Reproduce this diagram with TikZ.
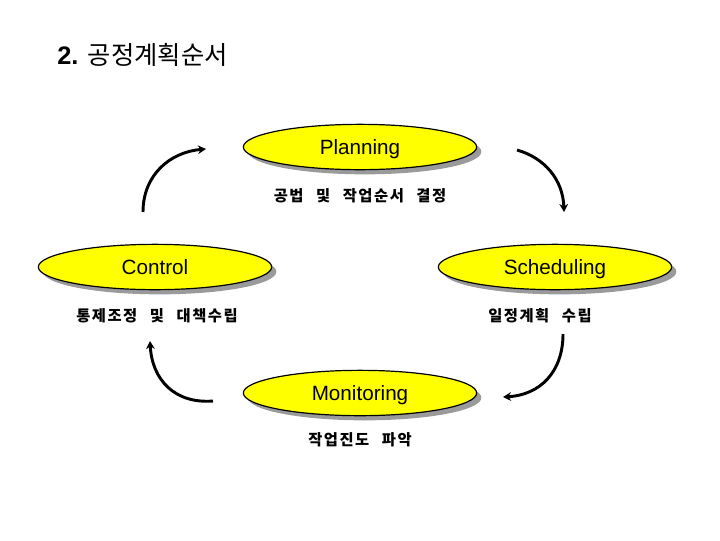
\documentclass[tikz,border=0pt]{standalone}
\usepackage{fontspec}
\setmainfont{Liberation Sans}
\newfontfamily\kr[LetterSpace=10,WordSpace=2.5]{Noto Sans CJK KR}
\newfontfamily\krtitle{Noto Sans CJK KR}
\usetikzlibrary{arrows.meta,shapes.geometric,shadows}
\definecolor{phasefill}{HTML}{FFFF00}
\definecolor{shadowcol}{HTML}{9A9A9A}

\tikzset{
  phase/.style={ellipse, draw=black, line width=0.9pt, fill=phasefill,
    minimum width=175pt, minimum height=34pt, inner sep=0pt,
    text height=1.05em, text depth=0pt,
    font=\fontsize{15.5}{18}\selectfont,
    drop shadow={shadow xshift=3.5pt, shadow yshift=-3.5pt, fill=shadowcol, opacity=1}},
  sublabel/.style={font=\kr\bfseries\fontsize{11.5}{13}\selectfont},
  cyc/.style={line width=2.2pt, -{Stealth[length=6pt,width=6.5pt]}}
}

\begin{document}
\begin{tikzpicture}[x=0.75pt, y=-0.75pt]
  \useasboundingbox (0,0) rectangle (720,540);

  % title
  \node[anchor=west, inner sep=0pt, font=\fontsize{19}{22}\selectfont] (title) at (57,55)
    {\textbf{2.} \krtitle 공정계획순서};

  % phases
  \node[phase] (plan)  at (360,147) {Planning};
  \node[phase] (ctrl)  at (155,267) {Control};
  \node[phase] (sched) at (555,267) {Scheduling};
  \node[phase] (mon)   at (360,393) {Monitoring};

  % what each phase does
  \node[sublabel] (plantxt)  at (360,196) {공법 및 작업순서 결정};
  \node[sublabel] (ctrltxt)  at (157,316) {통제조정 및 대책수립};
  \node[sublabel] (schedtxt) at (540,316) {일정계획 수립};
  \node[sublabel] (montxt)   at (360,440) {작업진도 파악};

  % cycle arrows (free standing, clockwise)
  \coordinate (tlA) at (143,212); \coordinate (tlB) at (206,149);
  \coordinate (trA) at (517,150); \coordinate (trB) at (564,212);
  \coordinate (brA) at (563,334); \coordinate (brB) at (503,397);
  \coordinate (blA) at (213,401); \coordinate (blB) at (150,341);
  \draw[cyc] (tlA) .. controls (143,175) and (170,152) .. (tlB);
  \draw[cyc] (trA) .. controls (545,158) and (563,180) .. (trB);
  \draw[cyc] (brA) .. controls (563,372) and (540,395) .. (brB);
  \draw[cyc] (blA) .. controls (175,404) and (152,380) .. (blB);
\end{tikzpicture}
\end{document}
